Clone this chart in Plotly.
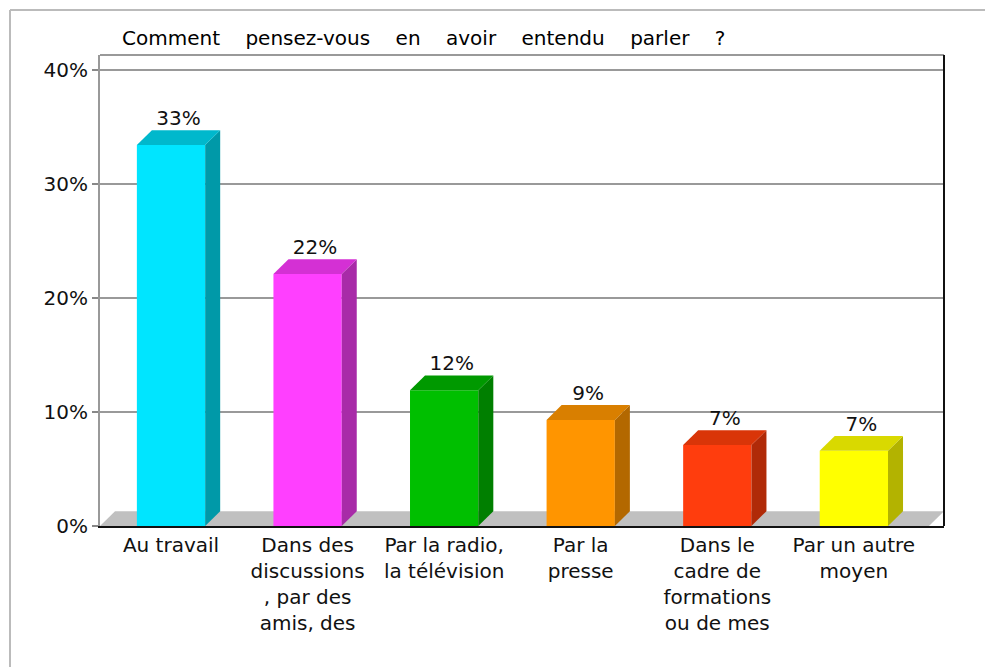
import plotly.graph_objects as go

# survey answers, share of respondents in percent
categories = [
    "Au travail",
    "Dans des<br>discussions<br>, par des<br>amis, des",
    "Par la radio,<br>la télévision",
    "Par la<br>presse",
    "Dans le<br>cadre de<br>formations<br>ou de mes",
    "Par un autre<br>moyen",
]
values = [33.4, 22.1, 11.9, 9.3, 7.1, 6.6]
y_ticks = [0, 10, 20, 30, 40]
y_tick_labels = ["0%", "10%", "20%", "30%", "40%"]
title_words = ["Comment", "pensez-vous", "en", "avoir", "entendu", "parler", "?"]

front_colors = ["#00E5FF", "#FF3FFF", "#00BF00", "#FF9500", "#FF3D0D", "#FFFF00"]
side_colors = ["#0099A8", "#A82BA8", "#007F00", "#B36800", "#B02A08", "#B3B300"]
top_colors = ["#00B8CC", "#D430D4", "#009900", "#D97F00", "#D93508", "#D9D900"]

FONT = "DejaVu Sans"
X_RANGE = [-0.52, 5.66]
Y_RANGE = [0, 41.3]
BAR_W = 0.5
DX = 0.11   # fake depth, x units
DY = 1.3    # fake depth, y units

xs = list(range(len(values)))

fig = go.Figure()

# side and top faces of each bar
for x, v, sc, tc in zip(xs, values, side_colors, top_colors):
    left, right = x - BAR_W / 2, x + BAR_W / 2
    fig.add_trace(go.Scatter(
        x=[right, right + DX, right + DX, right, right],
        y=[0, DY, v + DY, v, 0],
        fill="toself", fillcolor=sc, mode="lines", line_width=0,
        hoverinfo="skip",
    ))
    fig.add_trace(go.Scatter(
        x=[left, left + DX, right + DX, right, left],
        y=[v, v + DY, v + DY, v, v],
        fill="toself", fillcolor=tc, mode="lines", line_width=0,
        hoverinfo="skip",
    ))

fig.add_trace(go.Bar(
    x=xs, y=values, width=BAR_W,
    marker=dict(color=front_colors, line_width=0),
    hoverinfo="skip",
))

fig.add_trace(go.Scatter(
    x=[x + DX / 2 for x in xs],
    y=[v + DY for v in values],
    mode="text",
    text=[f"{round(v)}%" for v in values],
    textposition="top center",
    textfont=dict(family=FONT, size=20, color="#111"),
    hoverinfo="skip",
))

x0, x1 = X_RANGE
floor_path = (f"M {x0},0 L {x1 - DX},0 L {x1},{DY} L {x0 + DX},{DY} Z")

fig.update_layout(
    width=993, height=667,
    margin=dict(l=92, r=57, t=47, b=149),
    paper_bgcolor="white", plot_bgcolor="white",
    showlegend=False,
    font=dict(family=FONT, size=20, color="#111"),
    title=dict(
        text=("\u00a0" * 4).join(title_words),
        font=dict(family=FONT, size=20, color="#000"),
        xref="container", yref="container",
        x=114 / 993, xanchor="left",
        y=1 - 30 / 667, yanchor="middle",
    ),
    xaxis=dict(
        range=X_RANGE, tickmode="array", tickvals=xs, ticktext=categories,
        showgrid=False, zeroline=False,
        showline=True, linecolor="#111", linewidth=2,
        ticks="", tickfont=dict(family=FONT, size=20, color="#111"),
    ),
    yaxis=dict(
        range=Y_RANGE, tickmode="array", tickvals=y_ticks, ticktext=y_tick_labels,
        showgrid=True, gridcolor="#999", gridwidth=2, zeroline=False,
        showline=True, linecolor="#999", linewidth=2,
        ticks="outside", ticklen=6, tickcolor="#888", tickwidth=2,
        tickfont=dict(family=FONT, size=20, color="#111"),
    ),
    shapes=[
        # grey floor of the 3d box, between grid and traces
        dict(type="path", xref="x", yref="y", path=floor_path,
             fillcolor="#C0C0C0", line_width=0, layer="between"),
        # top and right edges of the plot box
        dict(type="line", xref="paper", yref="paper", x0=0, x1=1, y0=1, y1=1,
             line=dict(color="#999", width=2)),
        dict(type="line", xref="paper", yref="paper", x0=1, x1=1, y0=0, y1=1,
             line=dict(color="#111", width=2)),
        # light outer frame of the picture
        dict(type="line", xref="paper", yref="paper",
             x0=-90 / 844, x1=1.1, y0=1 + 45 / 471, y1=1 + 45 / 471,
             line=dict(color="#BBB", width=2)),
        dict(type="line", xref="paper", yref="paper",
             x0=-90 / 844, x1=-90 / 844, y0=1 + 45 / 471, y1=-0.4,
             line=dict(color="#BBB", width=2)),
    ],
)

fig.write_html("out.html")
